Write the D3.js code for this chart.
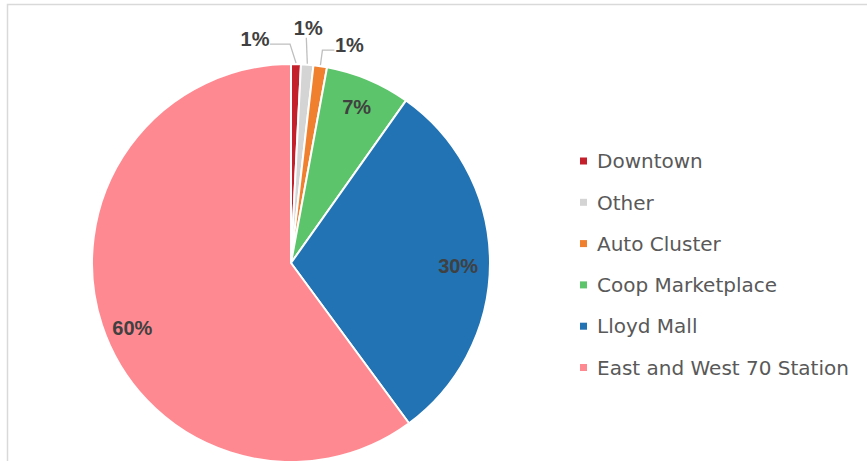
<!DOCTYPE html>
<meta charset="utf-8">
<style>
body {
  margin: 0;
  background-color: #ffffff;
}
.pct {
  font-family: 'Liberation Sans', Arial, sans-serif;
  font-weight: bold;
  font-size: 20px;
  fill: #404040;
}
.legend text {
  font-family: 'DejaVu Sans', sans-serif;
  font-size: 20px;
  fill: #595959;
}
.leader {
  fill: none;
  stroke: #bfbfbf;
  stroke-width: 1.3px;
}
</style>
<svg width="867" height="461"></svg>
<script src="https://d3js.org/d3.v7.min.js"></script>
<script>
var categories = ["Downtown", "Other", "Auto Cluster", "Coop Marketplace", "Lloyd Mall", "East and West 70 Station"];
var shares = [0.8, 1.0, 1.1, 6.9, 30.1, 60.1];
var colors = ["#c3202b", "#d4d4d4", "#f07f2e", "#5cc46a", "#2173b4", "#ff8991"];

var data = categories.map(function(c, i) { return {name: c, value: shares[i], color: colors[i]}; });

var svg = d3.select("svg"),
    cx = 291, cy = 263, radius = 199;

// light frame around the chart area
svg.append("rect")
    .attr("x", 7.5).attr("y", 4.5)
    .attr("width", 900).attr("height", 500)
    .attr("fill", "none")
    .attr("stroke", "#d9d9d9")
    .attr("stroke-width", 1.5);

var pie = d3.pie().sort(null).value(function(d) { return d.value; });
var arc = d3.arc().innerRadius(0).outerRadius(radius);
var labelArc = d3.arc().innerRadius(radius * 0.85).outerRadius(radius * 0.85);

var g = svg.append("g").attr("transform", "translate(" + cx + "," + cy + ")");

var arcs = pie(data);

g.selectAll("path.slice")
    .data(arcs)
  .enter().append("path")
    .attr("class", "slice")
    .attr("d", arc)
    .attr("fill", function(d) { return d.data.color; })
    .attr("stroke", "#ffffff")
    .attr("stroke-width", 2);

// big slices: labels inside
var inside = arcs.filter(function(d) { return d.data.value >= 5; });
var insideShift = {"Coop Marketplace": [0, 0], "Lloyd Mall": [-2, 4], "East and West 70 Station": [2, 12]};
g.selectAll("text.inside")
    .data(inside)
  .enter().append("text")
    .attr("class", "pct")
    .attr("text-anchor", "middle")
    .attr("dy", "0.36em")
    .attr("x", function(d) { return labelArc.centroid(d)[0] + insideShift[d.data.name][0]; })
    .attr("y", function(d) { return labelArc.centroid(d)[1] + insideShift[d.data.name][1]; })
    .text(function(d) { return Math.round(d.data.value) + "%"; });

// small slices: labels outside with leader lines
var outside = arcs.filter(function(d) { return d.data.value < 5; });
// [label dx, label dy, elbow dx, elbow dy] relative to the slice's outer edge
var outLayout = {
  "Downtown": [-41, -24, -6, -19],
  "Other": [1, -36, -1, -26],
  "Auto Cluster": [29, -20, 2, -15]
};
var edgeArc = d3.arc().innerRadius(radius + 1).outerRadius(radius + 1);

outside.forEach(function(d) {
  var p = edgeArc.centroid(d), L = outLayout[d.data.name];
  var lx = p[0] + L[0], ly = p[1] + L[1];
  var ex = p[0] + L[2], ey = p[1] + L[3];
  var pts = [p, [ex, ey]];
  if (Math.abs(L[0]) > 10) pts.push([lx + (L[0] < 0 ? 15 : -15), ey]);
  g.append("path")
      .attr("class", "leader")
      .attr("d", d3.line()(pts));
  g.append("text")
      .attr("class", "pct")
      .attr("text-anchor", "middle")
      .attr("dy", "0.36em")
      .attr("x", lx).attr("y", ly)
      .text(Math.round(d.data.value) + "%");
});

// legend
var legend = svg.append("g").attr("class", "legend")
    .attr("transform", "translate(580,161)");

var item = legend.selectAll("g")
    .data(data)
  .enter().append("g")
    .attr("transform", function(d, i) { return "translate(0," + (i * 41.3) + ")"; });

item.append("rect")
    .attr("x", 0).attr("y", -3.5)
    .attr("width", 7).attr("height", 7)
    .attr("fill", function(d) { return d.color; });

item.append("text")
    .attr("x", 17)
    .attr("dy", "0.36em")
    .text(function(d) { return d.name; });
</script>
